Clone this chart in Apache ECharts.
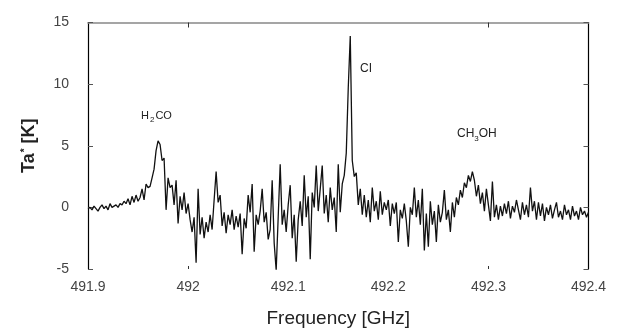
<!DOCTYPE html>
<html>
<head>
<meta charset="utf-8">
<script src="https://cdn.jsdelivr.net/npm/echarts@6/dist/echarts.min.js"></script>
<style>
html,body{margin:0;padding:0;background:#fff;}
#chart{width:621px;height:333px;}
</style>
</head>
<body>
<div id="chart"></div>
<script>
// Channel grid (GHz)
const freqStart = 491.9;
const freqStep = 0.002;
// Antenna temperature Ta* [K], read channel by channel from the picture
const taValues = [
 -0.1, 0.0, -0.2, 0.1, -0.1, -0.3, 0.0, 0.2, -0.1, 0.1,
 -0.2, 0.3, 0.0, 0.1, 0.2, 0.0, 0.3, 0.2, 0.5, 0.3,
 0.7, 0.2, 0.9, 0.4, 1.0, 0.5, 0.8, 1.5, 0.6, 1.9,
 1.6, 1.7, 2.4, 3.1, 4.6, 5.4, 5.1, 3.8, 4.0, -0.2,
 2.4, 1.6, 1.8, 0.2, 2.2, -1.3, 0.9, -0.2, 1.2, -0.5,
 0.3, -1.0, -2.0, -0.8, -4.5, 1.5, -2.2, -0.8, -2.5, -1.2,
 -2.0, -0.6, -1.8, 0.6, 2.9, 0.4, 1.0, -1.5, -0.4, -2.1,
 -0.6, -1.4, -0.2, -1.8, -0.7, -1.6, -0.5, -3.8, -0.9, -1.7,
 1.0, -0.4, 1.9, -3.6, -0.6, -1.4, -0.3, 1.5, -1.2, -0.4,
 -2.6, -1.8, 2.2, -2.9, -5.1, -0.8, 3.5, -1.4, -0.2, -2.0,
 0.2, 1.8, -2.5, -0.6, -4.4, -1.0, 0.5, -1.5, 2.6, -0.8,
 0.9, -4.2, 1.2, 0.0, 3.4, -0.3, 1.5, 3.4, -0.5, 1.0,
 -1.2, 1.6, -0.2, 0.8, -2.0, 3.5, -0.4, 1.9, 2.6, 4.4,
 9.7, 13.9, 3.8, 2.5, 2.8, 0.2, 1.5, -0.6, 1.0, -0.8,
 0.6, -1.2, 1.6, -0.3, 0.5, -1.0, 1.3, -0.6, 0.4, -0.2,
 0.6, -1.5, 0.3, -0.5, 0.4, -2.8, -0.2, -0.9, 0.3, -1.1,
 -3.2, 0.0, -0.6, 1.6, -0.8, 0.6, -1.4, 1.5, -3.5, -0.5,
 -3.2, 0.5, -1.4, -0.3, -2.8, 0.2, -1.2, -0.4, 1.4, -1.0,
 -0.2, -2.0, 0.4, -0.8, 0.8, 0.2, 1.4, 0.8, 2.0, 1.6,
 2.6, 2.1, 2.9, 2.2, 0.9, 1.8, 0.3, 1.2, -0.3, 1.5,
 0.2, -1.1, 2.1, -0.8, 0.2, -1.0, 0.1, -0.7, 0.3, -0.5,
 0.5, -0.9, 0.1, -0.4, 0.6, -0.2, -1.0, 0.4, -0.6, 0.2,
 -0.8, 1.6, -0.3, 0.5, -1.0, 0.4, -0.7, 0.3, -1.1, 0.0,
 -0.6, 0.2, -0.9, -0.2, 0.4, -0.8, -0.3, -1.0, 0.2, -0.6,
 -0.2, -1.0, 0.1, -0.7, -0.3, -1.0, 0.0, -0.6, -0.3, -0.8,
 -0.4
];
const xTicks = [491.9, 492.0, 492.1, 492.2, 492.3, 492.4];
const xMarkedTicks = [492.0, 492.3];
const yTicks = [-5, 0, 5, 10, 15];

const seriesData = taValues.map((v, i) => [freqStart + i * freqStep, v]);

const chart = echarts.init(document.getElementById('chart'), null, {renderer: 'canvas'});
const labelColor = '#444';
chart.setOption({
  animation: false,
  backgroundColor: '#fff',
  grid: {left: 88, right: 32.5, top: 22.5, bottom: 63, containLabel: false},
  xAxis: [{
    type: 'value', min: 491.9, max: 492.4, interval: 0.1,
    name: 'Frequency [GHz]', nameLocation: 'middle', nameGap: 40,
    nameTextStyle: {fontFamily: 'Liberation Sans', fontSize: 19, color: '#222'},
    axisLine: {show: false, onZero: false},
    axisTick: {show: true, inside: true, length: 3, lineStyle: {color: '#333'}, customValues: xMarkedTicks},
    axisLabel: {fontFamily: 'Liberation Sans', fontSize: 14, color: labelColor, margin: 11,
      customValues: xTicks,
      formatter: v => String(+(+v).toFixed(1))},
    splitLine: {show: false}
  }, {
    type: 'value', min: 491.9, max: 492.4, interval: 0.1, position: 'top',
    axisLine: {show: true, onZero: false, lineStyle: {color: '#888', width: 1.5}},
    axisTick: {show: true, inside: true, length: 5, lineStyle: {color: '#333'}, customValues: xMarkedTicks},
    axisLabel: {show: false},
    splitLine: {show: false}
  }],
  yAxis: [{
    type: 'value', min: -5, max: 15, interval: 5,
    name: 'Ta{sup|*} [K]', nameLocation: 'middle', nameGap: 50, nameRotate: 90,
    nameTextStyle: {fontFamily: 'Liberation Sans', fontSize: 18, fontWeight: 'bold', color: '#222',
      rich: {sup: {fontSize: 10, fontWeight: 'bold', verticalAlign: 'top', padding: [0,0,0,1]}}},
    axisLine: {show: true, onZero: false, lineStyle: {color: '#000', width: 1.2}},
    axisTick: {show: true, inside: true, length: 5, lineStyle: {color: '#555'}},
    axisLabel: {fontFamily: 'Liberation Sans', fontSize: 14, color: labelColor, margin: 19,
      formatter: v => String(v)},
    splitLine: {show: false}
  }, {
    type: 'value', min: -5, max: 15, interval: 5, position: 'right',
    axisLine: {show: true, onZero: false, lineStyle: {color: '#000', width: 1.2}},
    axisTick: {show: true, inside: true, length: 5, lineStyle: {color: '#555'}},
    axisLabel: {show: false},
    splitLine: {show: false}
  }],
  series: [{
    type: 'line', data: seriesData, xAxisIndex: 0, yAxisIndex: 0,
    showSymbol: false, symbol: 'none',
    lineStyle: {color: '#111', width: 1.3},
    z: 1
  }],
  graphic: [
    {type: 'text', left: 141, top: 110, style: {text: 'H{sub|2}CO', font: '11px "Liberation Sans"', fill: '#222',
      rich: {sub: {fontSize: 8, verticalAlign: 'bottom', padding: [9, 1, 0, 1]}}}},
    {type: 'text', left: 360, top: 63, style: {text: 'CI', font: '12px "Liberation Sans"', fill: '#222'}},
    {type: 'text', left: 457, top: 128, style: {text: 'CH{sub|3}OH', font: '12px "Liberation Sans"', fill: '#222',
      rich: {sub: {fontSize: 8, verticalAlign: 'bottom', padding: [9, 0, 0, 0]}}}}
  ]
});
</script>
</body>
</html>
